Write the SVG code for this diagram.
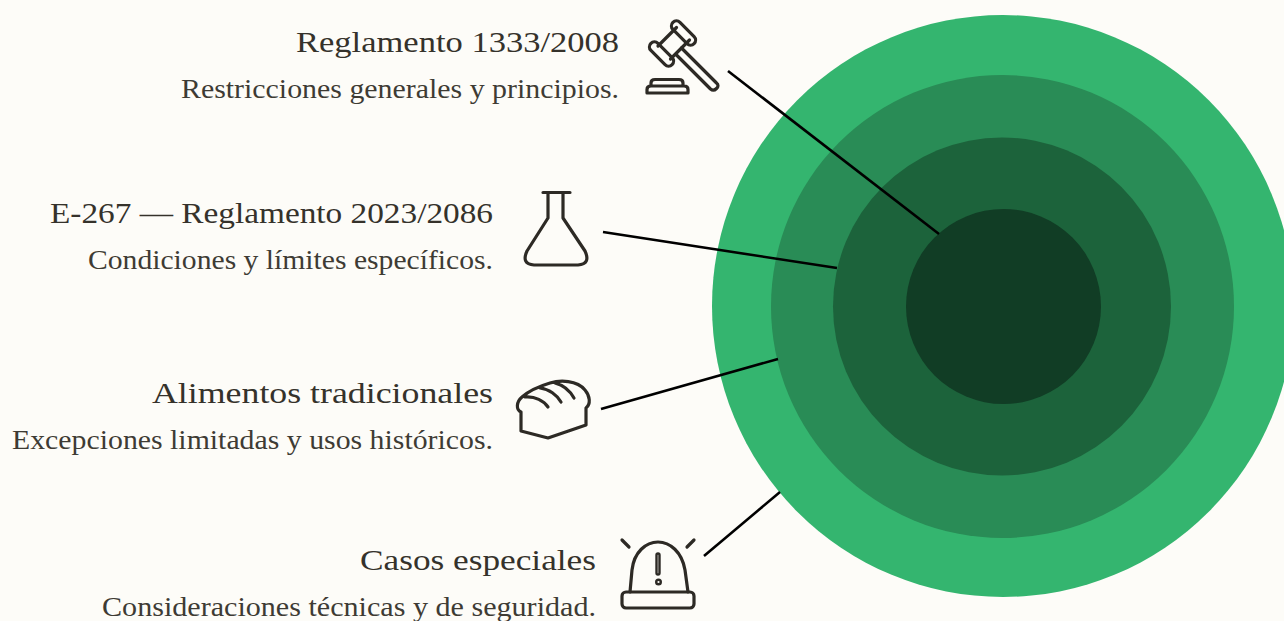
<svg xmlns="http://www.w3.org/2000/svg" width="1284" height="621" viewBox="0 0 1284 621">
<style>
.t{font-family:"Liberation Serif","DejaVu Serif",serif;fill:#35322b;text-anchor:end;font-size:30px}
.s{font-family:"Liberation Serif","DejaVu Serif",serif;fill:#3e3b34;text-anchor:end;font-size:27px}
.i{fill:none;stroke:#2d2a25;stroke-width:3.2;stroke-linecap:round;stroke-linejoin:round}
.c{stroke:#000;stroke-width:2.6;fill:none}
</style>
<rect width="1284" height="621" fill="#fdfcf8"/>
<g id="rings">
<circle cx="1003" cy="306" r="291" fill="#34b56f"/>
<circle cx="1002.500" cy="306.500" r="231.500" fill="#298c56"/>
<circle cx="1002" cy="306.500" r="169" fill="#1c633b"/>
<circle cx="1003.500" cy="306.500" r="97.500" fill="#113d25"/>
</g>
<g id="connectors">
<line class="c" x1="728" y1="71" x2="939" y2="234"/>
<line class="c" x1="603" y1="232" x2="837" y2="268"/>
<line class="c" x1="601" y1="409" x2="778" y2="359"/>
<line class="c" x1="704" y1="556" x2="780" y2="492"/>
</g>
<g id="node-reglamento">
<text class="t" x="619" y="52" textLength="323" lengthAdjust="spacingAndGlyphs">Reglamento 1333/2008</text>
<text class="s" x="619" y="98" textLength="438" lengthAdjust="spacingAndGlyphs">Restricciones generales y principios.</text>
<g class="i" transform="translate(1.500 1)">
<rect x="-5" y="-15" width="10" height="30" rx="5" transform="translate(660 53) rotate(-45)"/>
<rect x="-5" y="-15" width="10" height="30" rx="5" transform="translate(682 32) rotate(-45)"/>
<path d="M675 26.500L656.500 45M688 39L669 58"/>
<path d="M675 54L709 88Q712 90.500 715 87.500Q718 84.500 715 82L680 47"/>
</g>
<path class="i" d="M651 86V83Q651 79.500 655 79.500H679Q683 79.500 683 83V86M647 93V89.500Q647 86 651 86H684Q688 86 688 89.500V93Z"/>
</g>
<g id="node-e267">
<text class="t" x="493" y="223" textLength="443" lengthAdjust="spacingAndGlyphs">E-267 — Reglamento 2023/2086</text>
<text class="s" x="493" y="269" textLength="405" lengthAdjust="spacingAndGlyphs">Condiciones y límites específicos.</text>
<path class="i" d="M543 192.500H570M548 193V218L527 251Q521 264 534 265H578Q591 264 585 251L563 218V193"/>
</g>
<g id="node-alimentos">
<text class="t" x="493" y="403" textLength="341" lengthAdjust="spacingAndGlyphs">Alimentos tradicionales</text>
<text class="s" x="493" y="449" textLength="481" lengthAdjust="spacingAndGlyphs">Excepciones limitadas y usos históricos.</text>
<path class="i" d="M521 412V431L548 438L586 425V408C591 404 590 396 585 390C577 380 560 380 550 383C540 386 530 390 522 397C516 402 516 410 521 412ZM525 397C535 396 544 401 548 407M540 388C549 389 557 395 561 402M555 383C563 385 570 391 574 398"/>
</g>
<g id="node-casos">
<text class="t" x="596" y="570" textLength="236" lengthAdjust="spacingAndGlyphs">Casos especiales</text>
<text class="s" x="596" y="616" textLength="494" lengthAdjust="spacingAndGlyphs">Consideraciones técnicas y de seguridad.</text>
<g class="i">
<rect x="622" y="592" width="72" height="16" rx="4"/>
<path d="M630 592L632 570C634 552 646 542 658 542C670 542 682 552 685 570L688 592"/>
<rect x="656.500" y="553.500" width="3" height="21" rx="1.500" stroke-width="2.400"/>
<circle cx="658.500" cy="582" r="2.300" stroke-width="2.400"/>
<path d="M622 540L629 547M694 540L687 547"/>
</g>
</g>
</svg>
